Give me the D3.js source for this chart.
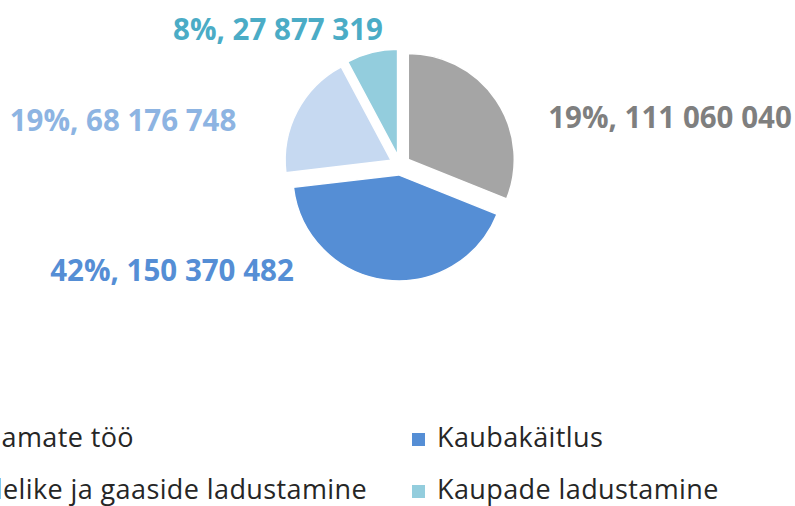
<!DOCTYPE html>
<html lang="et">
<head>
<meta charset="utf-8">
<script src="https://d3js.org/d3.v7.min.js"></script>
<style>
  body { margin: 0; background: #fff; }
  svg { display: block; font-family: "Open Sans", sans-serif; }
</style>
</head>
<body>
<script>

// data
var categories = ["Sadamate töö", "Kaubakäitlus", "Vedelike ja gaaside ladustamine", "Kaupade ladustamine"];
var values = [111060040, 150370482, 68176748, 27877319];
var pctLabels = ["19%", "42%", "19%", "8%"];   // as printed on the chart
var sliceColors = ["#A5A5A5", "#558ED5", "#C6D9F1", "#93CDDD"];
var labelColors = ["#7F7F7F", "#558ED5", "#8DB4E2", "#4BACC6"];

var width = 795, height = 506;
var cx = 400, cy = 165, radius = 106, explode = 10;

// label anchor points (centre of text, baseline)
var labelPos = [[670, 128], [172, 281], [123, 131], [278, 40]];

var svg = d3.select("body").append("svg")
    .attr("width", width)
    .attr("height", height);

var pie = d3.pie().sort(null).value(function(d) { return d; });
var arc = d3.arc().innerRadius(0).outerRadius(radius);
var arcs = pie(values);

var fmt = function(v) { return d3.format(",")(v).replace(/,/g, " "); };

var g = svg.append("g").attr("transform", "translate(" + cx + "," + cy + ")");

g.selectAll("path")
  .data(arcs)
  .enter().append("path")
    .attr("d", arc)
    .attr("fill", function(d, i) { return sliceColors[i]; })
    .attr("stroke", "#fff")
    .attr("stroke-width", 1.5)
    .attr("transform", function(d) {
      var a = (d.startAngle + d.endAngle) / 2;
      return "translate(" + (Math.sin(a) * explode) + "," + (-Math.cos(a) * explode) + ")";
    });

svg.selectAll(".lbl")
  .data(arcs)
  .enter().append("text")
    .attr("class", "lbl")
    .attr("x", function(d, i) { return labelPos[i][0]; })
    .attr("y", function(d, i) { return labelPos[i][1]; })
    .attr("text-anchor", "middle")
    .attr("font-size", 29.5)
    .attr("font-weight", "bold")
    .attr("fill", function(d, i) { return labelColors[i]; })
    .text(function(d, i) { return pctLabels[i] + ", " + fmt(values[i]); });

// legend, 2 columns x 2 rows; the left column runs off the left edge
var col1End = 134, col2x = 412, rowY = [447, 499], fs = 27, ls = 0.4;

var leg = svg.append("g").attr("class", "legend");
var probe = leg.append("text").attr("font-size", fs).attr("letter-spacing", ls).text(categories[0]);
var col1x = col1End - probe.node().getComputedTextLength();
probe.remove();

categories.forEach(function(c, i) {
  var row = (i === 0 || i === 1) ? 0 : 1;
  var col = (i === 0 || i === 2) ? 0 : 1;
  var mx = col === 0 ? col1x - 25 : col2x;
  leg.append("rect")
      .attr("x", mx)
      .attr("y", rowY[row] - 14)
      .attr("width", 13)
      .attr("height", 13)
      .attr("fill", sliceColors[i]);
  leg.append("text")
      .attr("x", mx + 25)
      .attr("y", rowY[row])
      .attr("font-size", fs)
      .attr("letter-spacing", ls)
      .attr("fill", "#262626")
      .text(c);
});

</script>
</body>
</html>
